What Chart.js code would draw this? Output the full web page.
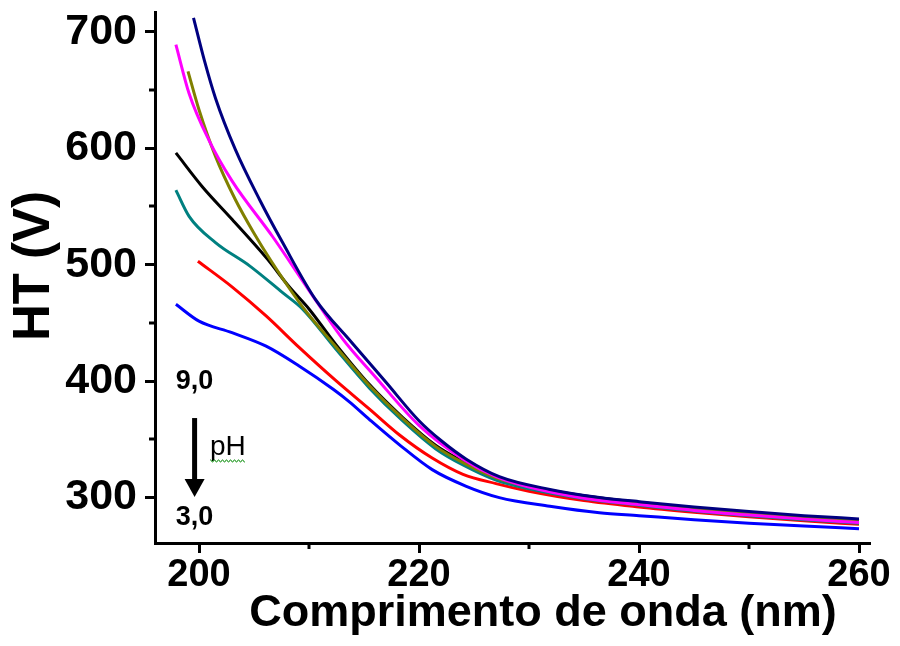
<!DOCTYPE html>
<html>
<head>
<meta charset="utf-8">
<script src="https://cdn.jsdelivr.net/npm/chart.js@4.4.1/dist/chart.umd.min.js"></script>
<style>
  html, body { margin: 0; padding: 0; background: #fff; }
  #wrap { width: 900px; height: 646px; position: relative; }
</style>
</head>
<body>
<div id="wrap"><canvas id="chart"></canvas></div>
<script>
/* ---- Data ---- */
const xTicks = [200, 220, 240, 260];
const xMinorTicks = [210, 230, 250];
const yTicks = [300, 400, 500, 600, 700];
const yMinorTicks = [350, 450, 550, 650];

const xTitle = 'Comprimento de onda (nm)';
const yTitle = 'HT (V)';

const phLabels = ['9,0', '8,0', '7,0', '6,0', '5,0', '4,0', '3,0'];
const lineColors = ['#000080', '#ff00ff', '#808000', '#000000', '#008080', '#ff0000', '#0000ff'];

// wavelength (nm) / HT (V) pairs, one list per curve
const wlNavy    = [199.5, 200.5, 201.5, 203.3, 205.5, 207.6, 210.6, 213.9, 217, 220, 222, 224.3, 227.3, 231.9, 236.4, 240, 245, 250, 255, 260];
const htNavy    = [712, 675, 643, 599, 556, 519, 470, 433, 399, 366, 349, 333, 318, 307, 300, 296.5, 292, 288, 284.5, 281.7];

const wlMagenta = [197.9, 199.1, 200.9, 203, 206.7, 210, 213, 216, 220, 224, 227, 230, 235, 240, 245, 250, 255, 260];
const htMagenta = [689, 647, 607, 572, 524, 478, 437, 404, 362, 333, 318, 309, 299.5, 294, 289, 285, 281.5, 278.5];

const wlOlive   = [199, 200, 201.5, 203.3, 205, 206.5, 209.4, 212.4, 215.5, 218.5, 221.5, 224, 227, 230, 235, 240, 245, 250, 255, 260];
const htOlive   = [666, 633, 593, 556, 527, 504, 464, 430, 396, 368, 344, 330, 317, 309.5, 301, 295.5, 290.5, 286.5, 283, 280];

const wlBlack   = [197.9, 200.3, 203, 206.2, 208.2, 210, 212.4, 215.5, 218.5, 221.5, 224, 227, 230, 235, 240, 245, 250, 255, 260];
const htBlack   = [596, 567, 539, 505, 481, 462, 432, 397, 369, 345, 331, 317.5, 310, 301.5, 296, 291, 287, 283.5, 280.5];

const wlTeal    = [197.9, 199.1, 201.5, 204.6, 207.6, 209.4, 212.4, 215.5, 218.5, 221.5, 224, 227, 230, 235, 240, 245, 250, 255, 260];
const htTeal    = [564, 541.5, 519, 499, 476, 462, 428, 394, 366, 342, 328, 315, 307.5, 299, 293.5, 288.5, 284.5, 281, 278];

const wlRed     = [199.9, 203, 206.1, 209.1, 212.5, 215.5, 218.2, 221.2, 224, 227, 230, 235, 240, 245, 250, 255, 260];
const htRed     = [503, 481, 456, 429, 400, 376, 354, 334, 320, 312, 305.5, 297.5, 292, 287.5, 283.5, 280, 277];

const wlBlue    = [197.9, 200, 203, 206.1, 209.1, 212.2, 213.7, 215.5, 218.2, 221.2, 224.3, 227.3, 231.9, 236.4, 240, 245, 250, 255, 260];
const htBlue    = [466, 451.5, 441.6, 430, 413, 393, 382, 367, 345.5, 324, 309.7, 300, 292.6, 287, 284.5, 281, 278, 275.5, 273.3];

const curves = [
  [wlNavy, htNavy], [wlMagenta, htMagenta], [wlOlive, htOlive], [wlBlack, htBlack],
  [wlTeal, htTeal], [wlRed, htRed], [wlBlue, htBlue]
];

const FONT = "'Liberation Sans', Arial, sans-serif";

/* ---- Axis titles, pH arrow, labels, minor ticks ---- */
const annotations = {
  id: 'phAnnotations',
  afterDraw(chart) {
    const { ctx, scales: { x, y } } = chart;
    ctx.save();

    // minor ticks
    ctx.strokeStyle = '#000';
    ctx.lineWidth = 3;
    xMinorTicks.forEach(v => {
      const px = Math.round(x.getPixelForValue(v));
      ctx.beginPath();
      ctx.moveTo(px, y.bottom);
      ctx.lineTo(px, y.bottom + 6);
      ctx.stroke();
    });
    yMinorTicks.forEach(v => {
      const py = Math.round(y.getPixelForValue(v));
      ctx.beginPath();
      ctx.moveTo(x.left, py);
      ctx.lineTo(x.left - 6, py);
      ctx.stroke();
    });

    // axis titles
    ctx.fillStyle = '#000';
    ctx.textAlign = 'center';
    ctx.textBaseline = 'middle';
    ctx.font = 'bold 45px ' + FONT;
    ctx.fillText(xTitle, 543, 614);
    ctx.save();
    ctx.translate(35, 266);
    ctx.rotate(-Math.PI / 2);
    ctx.font = 'bold 51px ' + FONT;
    ctx.fillText(yTitle, 0, 0);
    ctx.restore();

    // pH labels
    const cx = x.getPixelForValue(199.6);
    ctx.font = 'bold 27px ' + FONT;
    ctx.fillText('9,0', cx, y.getPixelForValue(399.3));
    ctx.fillText('3,0', cx, y.getPixelForValue(282.5));

    // arrow
    const yA = y.getPixelForValue(368.3);
    const yB = y.getPixelForValue(300.5);
    ctx.lineWidth = 5;
    ctx.beginPath();
    ctx.moveTo(cx, yA);
    ctx.lineTo(cx, yB - 14);
    ctx.stroke();
    ctx.beginPath();
    ctx.moveTo(cx - 10, yB - 18);
    ctx.lineTo(cx + 10, yB - 18);
    ctx.lineTo(cx, yB);
    ctx.closePath();
    ctx.fill();

    // "pH"
    ctx.textAlign = 'left';
    ctx.textBaseline = 'alphabetic';
    ctx.font = '28px ' + FONT;
    const px0 = x.getPixelForValue(201);
    const pyBase = y.getPixelForValue(336.6);
    ctx.fillText('pH', px0, pyBase);
    const w = ctx.measureText('pH').width;

    // wavy underline
    ctx.strokeStyle = '#2e9e2e';
    ctx.lineWidth = 1;
    ctx.beginPath();
    for (let i = 0; i <= w; i += 1) {
      const yy = pyBase + 5 + (Math.floor(i / 2) % 2 === 0 ? 0 : 2);
      if (i === 0) ctx.moveTo(px0 + i, yy); else ctx.lineTo(px0 + i, yy);
    }
    ctx.stroke();

    ctx.restore();
  }
};

function initChart() {
  const datasets = curves.map((c, i) => ({
    label: 'pH ' + phLabels[i],
    data: c[0].map((wl, k) => ({ x: wl, y: c[1][k] })),
    borderColor: lineColors[i],
    backgroundColor: lineColors[i],
    borderWidth: 3,
    pointRadius: 0,
    fill: false,
    cubicInterpolationMode: 'monotone'
  }));

  new Chart(document.getElementById('chart'), {
    type: 'line',
    data: { datasets },
    options: {
      responsive: true,
      maintainAspectRatio: false,
      animation: false,
      layout: { padding: { top: 12, right: 30, left: 0, bottom: 0 } },
      plugins: { legend: { display: false }, tooltip: { enabled: false } },
      scales: {
        x: {
          type: 'linear',
          min: 196,
          max: 261,
          afterBuildTicks: s => { s.ticks = xTicks.map(v => ({ value: v })); },
          afterFit: s => { s.height = 103; s.paddingLeft = 0; s.paddingRight = 0; },
          grid: { display: true, drawOnChartArea: false, drawTicks: true, tickLength: 10, tickWidth: 3, tickColor: '#000' },
          border: { display: true, color: '#000', width: 3 },
          ticks: { color: '#000', font: { family: FONT, size: 38, weight: 'bold' }, padding: 0, maxRotation: 0 }
        },
        y: {
          min: 261,
          max: 717,
          afterBuildTicks: s => { s.ticks = yTicks.map(v => ({ value: v })); },
          afterFit: s => { s.width = 155; s.paddingTop = 0; s.paddingBottom = 0; },
          grid: { display: true, drawOnChartArea: false, drawTicks: true, tickLength: 10, tickWidth: 3, tickColor: '#000' },
          border: { display: true, color: '#000', width: 3 },
          ticks: { color: '#000', font: { family: FONT, size: 43, weight: 'bold' }, padding: 8 }
        }
      }
    },
    plugins: [annotations]
  });
}

initChart();
</script>
</body>
</html>
